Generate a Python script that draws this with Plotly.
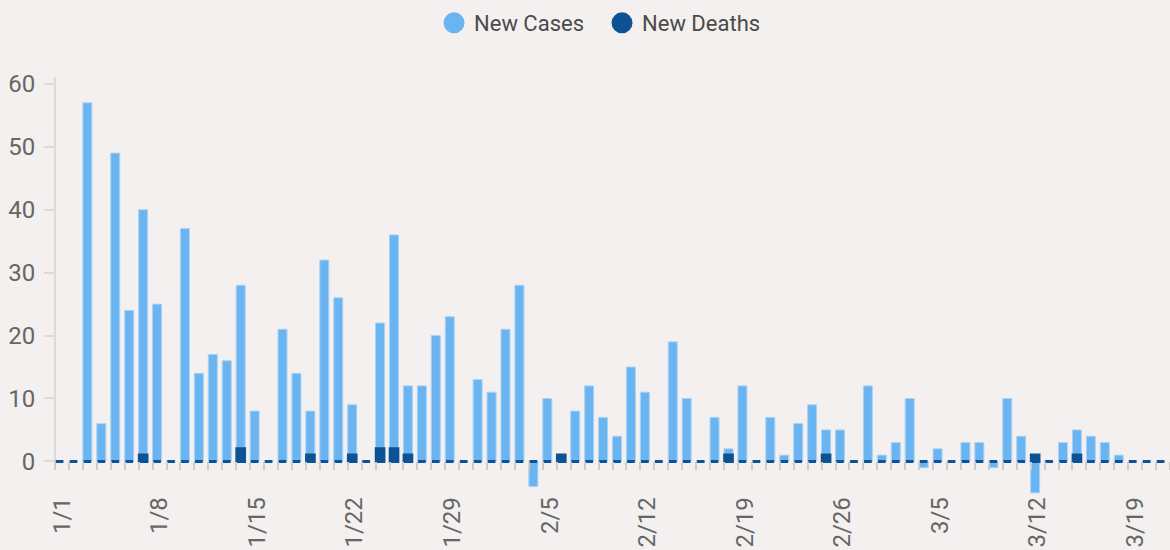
import pandas as pd
import plotly.graph_objects as go

# ---- data ----
dates = pd.date_range("2021-01-01", "2021-03-21", freq="D").strftime("%Y-%m-%d").tolist()

new_cases = [
    0, 0, 57, 6, 49, 24, 40, 25, 0, 37,          # 1/1 - 1/10
    14, 17, 16, 28, 8, 0, 21, 14, 8, 32,         # 1/11 - 1/20
    26, 9, 0, 22, 36, 12, 12, 20, 23, 0,         # 1/21 - 1/30
    13, 11, 21, 28, -4, 10, 0, 8, 12, 7,         # 1/31 - 2/9
    4, 15, 11, 0, 19, 10, 0, 7, 2, 12,           # 2/10 - 2/19
    0, 7, 1, 6, 9, 5, 5, 0, 12, 1,               # 2/20 - 3/1
    3, 10, -1, 2, 0, 3, 3, -1, 10, 4,            # 3/2 - 3/11
    -5, 0, 3, 5, 4, 3, 1, 0, 0, 0,               # 3/12 - 3/21
]

new_deaths = [
    0, 0, 0, 0, 0, 0, 1, 0, 0, 0,
    0, 0, 0, 2, 0, 0, 0, 0, 1, 0,
    0, 1, 0, 2, 2, 1, 0, 0, 0, 0,
    0, 0, 0, 0, 0, 0, 1, 0, 0, 0,
    0, 0, 0, 0, 0, 0, 0, 0, 1, 0,
    0, 0, 0, 0, 0, 1, 0, 0, 0, 0,
    0, 0, 0, 0, 0, 0, 0, 0, 0, 0,
    1, 0, 0, 1, 0, 0, 0, 0, 0, 0,
]

tick_dates = ["2021-01-01", "2021-01-08", "2021-01-15", "2021-01-22", "2021-01-29",
              "2021-02-05", "2021-02-12", "2021-02-19", "2021-02-26", "2021-03-05",
              "2021-03-12", "2021-03-19"]
tick_labels = ["1/1", "1/8", "1/15", "1/22", "1/29", "2/5", "2/12", "2/19",
               "2/26", "3/5", "3/12", "3/19"]

# ---- style ----
BG = "#F3F0EF"
LIGHT = "#6AB4F1"
DARK = "#0D5294"
DAY = 86400000
Y_MIN, Y_MAX = -5.5, 61.1
FIG_W, FIG_H = 1170, 550

fig = go.Figure()

fig.add_trace(go.Bar(
    x=dates, y=new_cases, name="New Cases",
    marker=dict(color=LIGHT, line=dict(color="#A9D3F5", width=1)),
    width=0.645 * DAY, offset=0, showlegend=False, legendgroup="c",
))
fig.add_trace(go.Bar(
    x=dates, y=new_deaths, name="New Deaths",
    marker=dict(color=DARK, line=dict(color=DARK, width=3)),
    width=0.55 * DAY, offset=0.05 * DAY, showlegend=False, legendgroup="d",
))

# legend entries (circle symbols)
fig.add_trace(go.Scatter(x=[None], y=[None], mode="markers", name="New Cases",
                         marker=dict(color=LIGHT, size=24, symbol="circle",
                                     line=dict(color=LIGHT, width=8)),
                         legendgroup="c"))
fig.add_trace(go.Scatter(x=[None], y=[None], mode="markers", name="New Deaths",
                         marker=dict(color=DARK, size=24, symbol="circle",
                                     line=dict(color=DARK, width=8)),
                         legendgroup="d"))

zero_pos = (0 - Y_MIN) / (Y_MAX - Y_MIN)

fig.update_layout(
    width=FIG_W, height=FIG_H,
    margin=dict(l=55, r=0, t=77, b=54, autoexpand=False),
    paper_bgcolor=BG, plot_bgcolor=BG,
    barmode="overlay",
    font=dict(family="Roboto, sans-serif", color="#666666"),
    showlegend=True,
    legend=dict(orientation="h", x=0.4906, xanchor="center", yref="container",
                y=1 - 23 / FIG_H, yanchor="middle", font=dict(size=22, color="#4a4a4a"),
                itemsizing="trace", entrywidth=123, entrywidthmode="pixels",
                bgcolor="rgba(0,0,0,0)"),
    xaxis=dict(
        type="date", range=["2021-01-01", "2021-03-22"],
        anchor="free", position=zero_pos,
        tickmode="array",
        tickvals=[d + " 12:00" for d in tick_dates], ticktext=tick_labels,
        tickangle=-90, ticks="", ticklabelstandoff=30,
        tickfont=dict(size=24, color="#666666"),
        showgrid=False, zeroline=False, showline=False,
        minor=dict(ticks="outside", ticklen=8, tickwidth=2, tickcolor="#CFCBCA",
                   dtick=DAY, tick0="2021-01-01", showgrid=False),
    ),
    yaxis=dict(
        range=[Y_MIN, Y_MAX], tickvals=[0, 10, 20, 30, 40, 50, 60],
        ticks="outside", ticklen=10, tickwidth=2, tickcolor="#DDDAD9",
        ticklabelstandoff=4,
        tickfont=dict(size=24, color="#666666"),
        showgrid=False, zeroline=False, showline=False,
    ),
    shapes=[dict(type="line", xref="paper", yref="y", x0=0, x1=0,
                 y0=0, y1=Y_MAX, line=dict(color="#DDDAD9", width=2), layer="below")],
)

fig.write_html(
    "out.html",
    config={"displayModeBar": False},
    post_script="document.body.style.margin='0'; document.body.style.background='%s';" % BG,
)
